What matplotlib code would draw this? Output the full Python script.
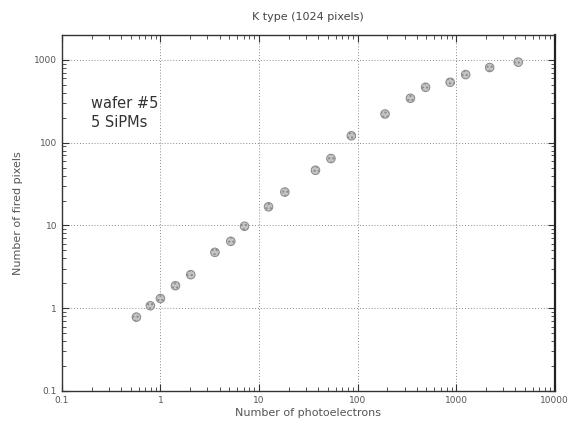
import numpy as np
import matplotlib
matplotlib.use("Agg")
from matplotlib import pyplot as plt
from matplotlib.ticker import FixedLocator, FixedFormatter, LogLocator, NullFormatter

# Values (wafer #5, 5 SiPMs).
photoelectrons = [0.57, 0.79, 1.0, 1.42, 2.03, 3.57, 5.17, 7.13, 12.5, 18.3,
                  37.4, 53.7, 86.5, 190, 344, 490, 871, 1250, 2190, 4270]
fired_pixels = [0.78, 1.07, 1.31, 1.87, 2.54, 4.73, 6.43, 9.78, 16.8, 25.3,
                46.4, 64.3, 121, 222, 344, 467, 537, 665, 809, 940]

x_ticks = [0.1, 1, 10, 100, 1000, 10000]
x_labels = ["0.1", "1", "10", "100", "1000", "10000"]
y_ticks = [0.1, 1, 10, 100, 1000]
y_labels = ["0.1", "1", "10", "100", "1000"]

fig = plt.figure(figsize=(5.73, 4.32), dpi=100)
ax = fig.add_axes([0.108, 0.095, 0.86, 0.824])

ax.set_xscale("log")
ax.set_yscale("log")
ax.set_xlim(0.1, 10000)
ax.set_ylim(0.1, 2000)

ax.scatter(photoelectrons, fired_pixels, s=38, facecolor="#c4c4c4",
           edgecolor="#8a8a8a", linewidth=0.7, hatch="....", zorder=3)

# grid only at the decades, dotted
ax.grid(True, which="major", linestyle=(0, (1, 2)), color="#8a8a8a",
        linewidth=0.7)

ax.xaxis.set_major_locator(FixedLocator(x_ticks))
ax.xaxis.set_major_formatter(FixedFormatter(x_labels))
ax.yaxis.set_major_locator(FixedLocator(y_ticks))
ax.yaxis.set_major_formatter(FixedFormatter(y_labels))
ax.xaxis.set_minor_locator(LogLocator(base=10, subs=np.arange(2, 10)))
ax.yaxis.set_minor_locator(LogLocator(base=10, subs=np.arange(2, 10)))
ax.xaxis.set_minor_formatter(NullFormatter())
ax.yaxis.set_minor_formatter(NullFormatter())

ax.tick_params(which="both", direction="in", top=True, right=True,
               colors="#333333", labelcolor="#555555", labelsize=6.5)
ax.tick_params(which="major", length=5, width=0.8)
ax.tick_params(which="minor", length=3, width=0.6)

for side in ["left", "bottom", "top"]:
    ax.spines[side].set_color("#333333")
    ax.spines[side].set_linewidth(1.0)
ax.spines["right"].set_color("#222222")
ax.spines["right"].set_linewidth(1.6)

ax.set_title("K type (1024 pixels)", fontsize=8, color="#444444", pad=11)
ax.set_xlabel("Number of photoelectrons", fontsize=8, color="#555555",
              labelpad=2)
ax.set_ylabel("Number of fired pixels", fontsize=8, color="#555555",
              labelpad=8)

ax.text(0.06, 0.78, "wafer #5\n5 SiPMs", transform=ax.transAxes,
        fontsize=10.5, color="#333333", va="center", linespacing=1.35)

fig.savefig("out.png", dpi=100)
